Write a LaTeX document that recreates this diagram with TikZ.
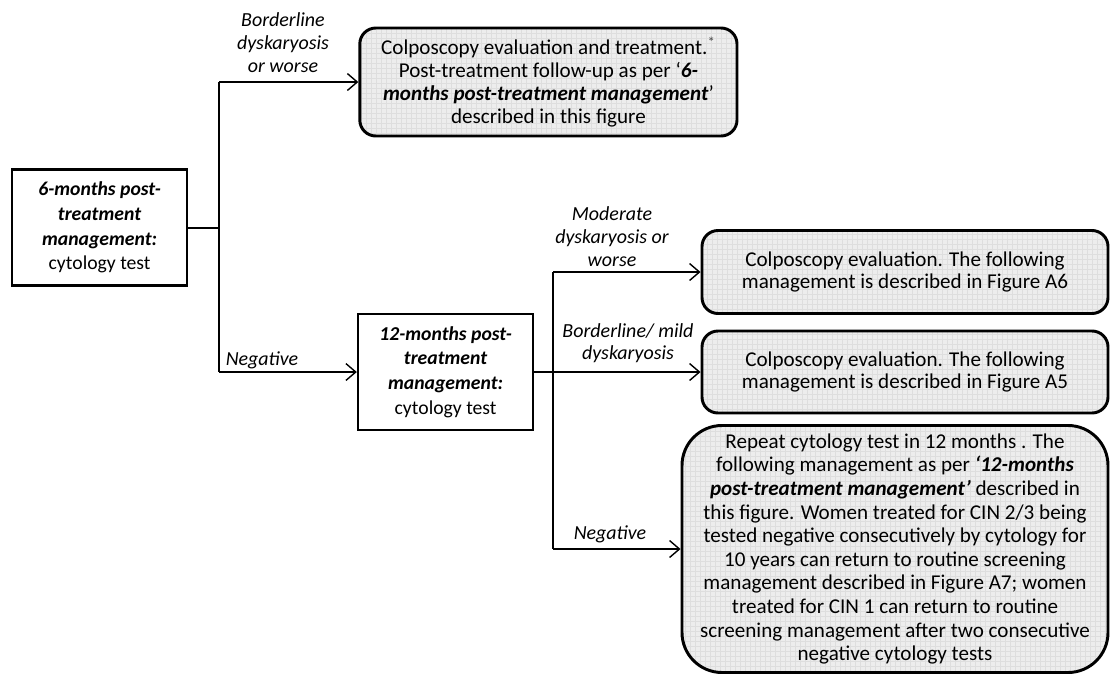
\documentclass[tikz,border=0pt]{standalone}
\usepackage{fontspec}
\setmainfont{Carlito}
\usetikzlibrary{arrows.meta,positioning}
\pgfdeclarelayer{edgelayer}
\pgfdeclarelayer{nodelayer}
\pgfsetlayers{edgelayer,nodelayer,main}
\definecolor{boxgrey}{RGB}{237,237,237}
\definecolor{gridgrey}{RGB}{222,222,222}
\tikzset{font=\fontsize{15}{16.3}\selectfont}
\tikzstyle{none}=[inner sep=0pt]
\tikzstyle{test}=[rectangle,draw=black,line width=1.8pt,fill=white,align=center,minimum width=4.375cm,minimum height=2.9cm,inner sep=2pt,font=\fontsize{14}{17.5}\selectfont]
\tikzstyle{outcome}=[rectangle,rounded corners=0.4cm,draw=black,line width=2.1pt,fill=boxgrey,align=center,inner sep=2pt,path picture={\draw[gridgrey,line width=0.4pt,step=0.125cm] (path picture bounding box.south west) grid (path picture bounding box.north east);}]
\tikzstyle{branchtext}=[align=center,font=\fontsize{14.2}{16.3}\selectfont\itshape,inner sep=0pt]
\tikzstyle{inarrow}=[-{Straight Barb[length=7pt,width=12pt,line width=1pt]},line width=1.2pt]
\tikzstyle{simple}=[-,line width=1.4pt]
\newcommand{\bi}[1]{\textbf{\textit{#1}}}

\begin{document}
\begin{tikzpicture}
	\useasboundingbox (0,0) rectangle (27.8,-16.85);
	\begin{pgfonlayer}{nodelayer}
		\node [style=test] (Six) at (2.49,-5.69) {\bi{6-months post-}\\\bi{treatment}\\\bi{management:}\\cytology test};
		\node [style=outcome, minimum width=9.43cm, minimum height=2.7cm] (Colpo) at (13.71,-2.05) {Colposcopy evaluation and treatment.\textsuperscript{\color{black!70}*}\\Post-treatment follow-up as per `\bi{6-}\\\bi{months post-treatment management}'\\described in this figure};
		\node [style=test] (Twelve) at (11.14,-9.3) {\bi{12-months post-}\\\bi{treatment}\\\bi{management:}\\cytology test};
		\node [style=outcome, minimum width=10.15cm, minimum height=2.075cm] (ModBox) at (22.625,-6.8) {Colposcopy evaluation. The following\\management is described in Figure A6};
		\node [style=outcome, minimum width=10.15cm, minimum height=2.05cm] (MildBox) at (22.625,-9.3) {Colposcopy evaluation. The following\\management is described in Figure A5};
		\node [style=outcome, rounded corners=1cm, minimum width=10.65cm, minimum height=6.175cm, font=\fontsize{15}{16.8}\selectfont] (NegBox) at (22.375,-13.725) {Repeat cytology test in 12 months . The\\following management as per \bi{`12-months}\\\bi{post-treatment management'} described in\\this figure. Women treated for CIN 2/3 being\\tested negative consecutively by cytology for\\10 years can return to routine screening\\management described in Figure A7; women\\treated for CIN 1 can return to routine\\screening management after two consecutive\\negative cytology tests};
		\node [style=branchtext] (BordA) at (7.075,-1.075) {Borderline\\dyskaryosis\\or worse};
		\node [style=branchtext] (NegA) at (6.55,-9.0) {Negative};
		\node [style=branchtext] (ModB) at (15.3,-5.92) {Moderate\\dyskaryosis or\\worse};
		\node [style=branchtext] (MildB) at (15.7,-8.58) {Borderline/ mild\\dyskaryosis};
		\node [style=branchtext] (NegB) at (15.25,-13.36) {Negative};
		\node [style=none] (SixJ) at (5.475,-5.69) {};
		\node [style=none] (SixT) at (5.475,-2.05) {};
		\node [style=none] (SixB) at (5.475,-9.3) {};
		\node [style=none] (TwT) at (13.825,-6.8) {};
		\node [style=none] (TwB) at (13.825,-13.725) {};
	\end{pgfonlayer}
	\begin{pgfonlayer}{edgelayer}
		\draw [style=simple] (Six) to (SixJ.center);
		\draw [style=simple] (SixT.center) to (SixB.center);
		\draw [style=inarrow] (SixT.center) to (Colpo);
		\draw [style=inarrow] (SixB.center) to (Twelve);
		\draw [style=inarrow] (Twelve) to (MildBox);
		\draw [style=simple] (TwT.center) to (TwB.center);
		\draw [style=inarrow] (TwT.center) to (ModBox);
		\draw [style=inarrow] (TwB.center) to (NegBox);
	\end{pgfonlayer}
\end{tikzpicture}
\end{document}
